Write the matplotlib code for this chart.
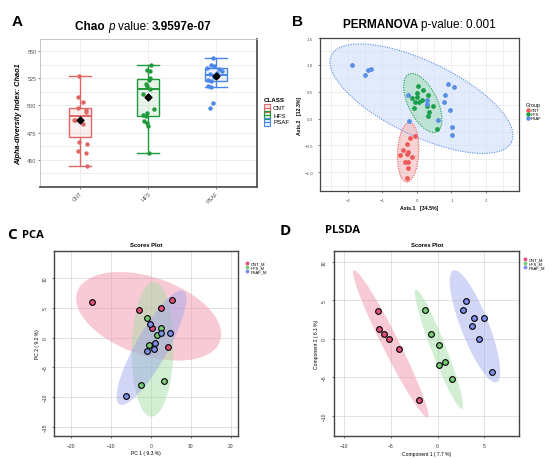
import matplotlib.pyplot as plt
import matplotlib.patches as mpatches
from matplotlib.lines import Line2D
import numpy as np

plt.rcParams['font.family'] = ['Liberation Sans', 'DejaVu Sans']

# ---------------- data ----------------
groups = ["CNT", "HFS", "PSAF"]

# A: Chao1 box statistics
chao_q1 = [470.7, 490.7, 522.6]
chao_med = [490.1, 515.0, 527.8]
chao_q3 = [497.7, 523.9, 534.2]
chao_lo = [444.0, 456.7, 517.2]
chao_hi = [527.2, 537.2, 543.9]
chao_mean = [486.5, 507.4, 526.6]

chao_cnt = [527.2, 508.0, 502.7, 497.8, 495.4, 493.8, 486.2, 486.5, 483.0, 466.0, 464.3, 458.2, 456.7, 444.0]
chao_cnt_jit = [-0.015, -0.034, 0.049, -0.034, 0.088, 0.088, -0.088, -0.074, 0.039, -0.015, 0.098, -0.029, 0.083, 0.108]
chao_hfs = [537.0, 532.7, 532.0, 525.0, 523.0, 520.0, 517.5, 515.0, 510.7, 496.5, 493.0, 491.0, 490.0, 486.0, 484.0, 481.0, 456.7]
chao_hfs_jit = [0.049, -0.015, 0.034, 0.025, 0.015, -0.029, -0.015, 0.034, -0.074, 0.088, -0.015, -0.074, -0.034, -0.059, -0.020, -0.005, 0.015]
chao_psaf = [544.0, 537.0, 536.3, 534.8, 533.0, 532.0, 530.0, 528.7, 526.3, 523.3, 522.0, 517.8, 516.9, 502.0, 498.0]
chao_psaf_jit = [-0.049, -0.078, -0.039, -0.137, 0.044, 0.093, 0.010, -0.088, -0.039, -0.127, -0.078, -0.123, -0.074, -0.049, -0.088]

# B: PCoA ordination
pcoa_cnt_x = [-0.05, -0.20, -0.28, -0.41, -0.26, -0.49, -0.28, -0.13, -0.35, -0.27, -0.26, -0.29]
pcoa_cnt_y = [-0.33, -0.36, -0.48, -0.58, -0.62, -0.68, -0.67, -0.72, -0.81, -0.81, -0.92, -1.10]
pcoa_hfs_x = [0.03, 0.18, 0.01, -0.13, 0.01, 0.14, 0.31, -0.05, 0.05, -0.09, 0.28, 0.47, 0.36, 0.33, 0.57]
pcoa_hfs_y = [0.60, 0.53, 0.47, 0.38, 0.41, 0.35, 0.44, 0.30, 0.30, 0.20, 0.24, 0.24, 0.13, 0.05, -0.20]
pcoa_psaf_x = [-1.88, -1.51, -1.41, -1.32, -0.26, -0.22, 0.89, 1.07, 0.80, 0.79, 0.97, 0.60, 1.01, 1.01, 0.29, 0.28]
pcoa_psaf_y = [0.99, 0.82, 0.90, 0.92, 0.44, -0.04, 0.65, 0.58, 0.44, 0.30, 0.15, -0.03, -0.15, -0.30, 0.35, 0.28]
# ellipses: centre, conjugate semi-diameters (u, v)
pcoa_ell_centre = [(-0.255, -0.63), (0.17, 0.29), (0.13, 0.37)]
pcoa_ell_u = [(-0.044, -0.555), (0.405, -0.537), (2.61, -0.81)]
pcoa_ell_v = [(0.307, -0.010), (0.381, 0.117), (0.48, 0.62)]

# C: PCA scores
pca_cnt_x = [-14.8, -3.0, 2.7, 5.25, 0.33, 4.3]
pca_cnt_y = [5.9, 4.7, 4.9, 6.35, 1.57, -1.57]
pca_hfs_x = [-1.0, 2.5, 1.67, -0.42, 3.33, -2.33]
pca_hfs_y = [3.26, 1.57, 0.34, -1.24, -7.25, -7.98]
pca_psaf_x = [-0.25, 2.5, 4.9, 1.0, 0.83, -1.0, -6.1]
pca_psaf_y = [2.25, 0.84, 0.79, -0.84, -2.0, -2.3, -9.8]
pca_ell_centre = [(-0.5, 3.56), (0.5, -1.97), (0.2, -1.71)]
pca_ell_u = [(17.85, -4.15), (0.3, 11.34), (8.0, 9.53)]
pca_ell_v = [(3.18, 6.18), (5.2, 0.0), (3.48, -1.33)]

# D: PLS-DA scores
pls_cnt_x = [-6.43, -6.29, -5.71, -5.21, -4.18, -2.04]
pls_cnt_y = [3.6, 1.3, 0.57, 0.0, -1.3, -7.96]
pls_hfs_x = [-1.36, -0.68, 0.11, 0.82, 0.11, 1.57]
pls_hfs_y = [3.7, 0.65, -0.78, -2.96, -3.35, -5.2]
pls_psaf_x = [3.04, 2.75, 3.86, 4.93, 3.71, 4.43, 5.86]
pls_psaf_y = [4.87, 3.74, 2.65, 2.7, 1.65, 0.0, -4.3]
pls_ell_centre = [(-5.03, -0.65), (0.14, -1.37), (4.0, 1.63)]
pls_ell_u = [(-3.95, 9.56), (-2.47, 7.76), (-2.32, 7.28)]
pls_ell_v = [(0.80, 0.49), (0.73, 0.34), (1.39, 0.65)]


def ellipse_xy(c, u, v):
    t = np.linspace(0, 2 * np.pi, 200)
    x = c[0] + u[0] * np.cos(t) + v[0] * np.sin(t)
    y = c[1] + u[1] * np.cos(t) + v[1] * np.sin(t)
    return x, y


fig = plt.figure(figsize=(5.53, 4.60), dpi=100)
renderer = fig.canvas.get_renderer()


def run_text(x_px, y_px, pieces, size):
    # place text pieces one after another on a line (pixel coords from top-left)
    x = x_px
    for txt, kw in pieces:
        t = fig.text(x / 553, 1 - y_px / 460, txt, fontsize=size, ha='left', va='center', **kw)
        x += t.get_window_extent(renderer).width


# ---------------- A ----------------
colA = ["#e06666", "#1f9a3a", "#4a86e8"]
axA = fig.add_axes([0.0723, 0.5913, 0.3924, 0.3217])
stats = []
for i in range(3):
    stats.append(dict(med=chao_med[i], q1=chao_q1[i], q3=chao_q3[i],
                      whislo=chao_lo[i], whishi=chao_hi[i], fliers=[]))
bp = axA.bxp(stats, positions=[1, 2, 3], widths=0.32, patch_artist=True,
             showfliers=False)
for i in range(3):
    bp['boxes'][i].set(facecolor=colA[i] + "1a", edgecolor=colA[i], linewidth=1.0)
    bp['medians'][i].set(color=colA[i], linewidth=1.4)
    for w in bp['whiskers'][2 * i:2 * i + 2]:
        w.set(color=colA[i], linewidth=1.0)
    for c in bp['caps'][2 * i:2 * i + 2]:
        c.set(color=colA[i], linewidth=1.0, xdata=[i + 1 - 0.16, i + 1 + 0.16])
pts = [(chao_cnt, chao_cnt_jit), (chao_hfs, chao_hfs_jit), (chao_psaf, chao_psaf_jit)]
for i, (vals, jit) in enumerate(pts):
    axA.scatter(np.array(jit) + i + 1, vals, s=10, color=colA[i], zorder=3, linewidths=0)
axA.scatter([1, 2, 3], chao_mean, marker='D', s=12, color='black', zorder=4)
axA.set_xlim(0.41, 3.6)
axA.set_ylim(425, 561)
axA.set_yticks([450, 475, 500, 525, 550])
axA.set_yticks([437.5, 462.5, 487.5, 512.5, 537.5], minor=True)
axA.set_xticks([1, 2, 3])
axA.set_xticklabels(groups, rotation=45, ha='right', rotation_mode='anchor')
axA.tick_params(labelsize=4, colors='#555555', length=1.5, width=0.5, pad=1)
axA.tick_params(which='minor', length=0)
axA.grid(True, which='both', color='#ebebeb', linewidth=0.6)
axA.set_axisbelow(True)
for s in ['left', 'top']:
    axA.spines[s].set(color='#bbbbbb', linewidth=0.6)
for s in ['right', 'bottom']:
    axA.spines[s].set(color='#555555', linewidth=1.3)
axA.set_ylabel("Alpha-diversity Index: Chao1", fontsize=5.3, fontstyle='italic',
               fontweight='bold')
axA.yaxis.set_label_coords(-18 / 217, 0.5)
run_text(75, 27, [("Chao ", dict(fontweight='bold')), ("p ", dict(fontstyle='italic')),
                  ("value: ", {}), ("3.9597e-07", dict(fontweight='bold'))], 8.5)
fig.text(12 / 553, 1 - 22 / 460, "A", fontsize=11, fontweight='bold', ha='left', va='center')

# legend A
fig.text(264 / 553, 1 - 100 / 460, "CLASS", fontsize=4.5, fontweight='bold', va='center')
for i, g in enumerate(groups):
    y = 1 - (109 + 7 * i) / 460
    fig.patches.append(mpatches.Rectangle((264 / 553, y - 0.008), 0.011, 0.016,
                                          transform=fig.transFigure,
                                          facecolor=colA[i] + "22", edgecolor=colA[i], linewidth=0.8))
    fig.add_artist(Line2D([264 / 553, 270 / 553], [y, y], color=colA[i], linewidth=0.8,
                          transform=fig.transFigure))
    fig.text(273 / 553, y, g, fontsize=4.5, va='center')

# ---------------- B ----------------
colB = ["#ee5a5a", "#1aa04a", "#5a8fe6"]
fillB = ["#f4b6b6", "#a8dcbd", "#cddffa"]
axB = fig.add_axes([0.5787, 0.5826, 0.3599, 0.3326])
ptsB = [(pcoa_cnt_x, pcoa_cnt_y), (pcoa_hfs_x, pcoa_hfs_y), (pcoa_psaf_x, pcoa_psaf_y)]
for i in [2, 1, 0]:
    ex, ey = ellipse_xy(pcoa_ell_centre[i], pcoa_ell_u[i], pcoa_ell_v[i])
    axB.fill(ex, ey, facecolor=fillB[i], alpha=0.6, edgecolor='none', zorder=1)
    axB.plot(ex, ey, color=colB[i], linestyle=(0, (1, 1.2)), linewidth=0.8, zorder=2)
for i in range(3):
    axB.scatter(ptsB[i][0], ptsB[i][1], s=12, color=colB[i], zorder=3, linewidths=0)
axB.set_xlim(-2.81, 2.96)
axB.set_ylim(-1.35, 1.5)
axB.set_xticks([-2, -1, 0, 1, 2])
axB.set_yticks([-1.0, -0.5, 0.0, 0.5, 1.0, 1.5])
axB.set_xticks([-2.5, -1.5, -0.5, 0.5, 1.5, 2.5], minor=True)
axB.set_yticks([-1.25, -0.75, -0.25, 0.25, 0.75, 1.25], minor=True)
axB.tick_params(labelsize=3.2, colors='#555555', length=1.5, width=0.5)
axB.tick_params(which='minor', length=0)
axB.grid(True, which='both', color='#ebebeb', linewidth=0.6)
axB.set_axisbelow(True)
for s in axB.spines.values():
    s.set(color='#444444', linewidth=0.9)
axB.set_xlabel("Axis.1   [34.5%]", fontsize=3.8, fontweight='bold', labelpad=2)
axB.set_ylabel("Axis.2   [12.3%]", fontsize=3.8, fontweight='bold', labelpad=2)
run_text(343, 25, [("PERMANOVA ", dict(fontweight='bold')), ("p-value: 0.001", {})], 8.5)
fig.text(292 / 553, 1 - 22 / 460, "B", fontsize=11, fontweight='bold', ha='left', va='center')
fig.text(526 / 553, 1 - 105 / 460, "Group", fontsize=3.8, va='center')
for i, g in enumerate(["CNT", "HFS", "PSAF"]):
    y = 1 - (111 + 4.2 * i) / 460
    fig.add_artist(Line2D([528 / 553], [y], marker='o', markersize=2.2, color=colB[i],
                          transform=fig.transFigure, linestyle='none'))
    fig.text(531 / 553, y, g, fontsize=3.0, va='center')

# ---------------- C & D ----------------
colP = ["#e0507a", "#78cc78", "#7f8ee6"]
fillP = ["#f08aa5", "#9fdc9f", "#9aa3ec"]


def scores_panel(rect, pts, centres, us, vs, xlim, ylim, xticks, yticks, xlabel, ylabel):
    ax = fig.add_axes(rect)
    for i in range(3):
        ex, ey = ellipse_xy(centres[i], us[i], vs[i])
        ax.fill(ex, ey, facecolor=fillP[i], alpha=0.45, edgecolor='none', zorder=1)
    for i in range(3):
        ax.scatter(pts[i][0], pts[i][1], s=17, color=colP[i], edgecolors='black',
                   linewidths=0.8, zorder=3)
    ax.set_xlim(xlim)
    ax.set_ylim(ylim)
    ax.set_xticks(xticks)
    ax.set_yticks(yticks)
    ax.tick_params(labelsize=3.6, length=1.5, width=0.5, colors='#333333')
    for lab in ax.get_yticklabels():
        lab.set_rotation(90)
        lab.set_va('center')
    ax.grid(True, color='#dddddd', linewidth=0.6)
    ax.set_axisbelow(True)
    for s in ax.spines.values():
        s.set(color='#444444', linewidth=1.0)
    ax.set_title("Scores Plot", fontsize=4.2, fontweight='bold', pad=4)
    ax.set_xlabel(xlabel, fontsize=3.6, labelpad=2)
    ax.set_ylabel(ylabel, fontsize=3.6, labelpad=2)
    return ax


scores_panel([0.0982, 0.0507, 0.3327, 0.4009],
             [(pca_cnt_x, pca_cnt_y), (pca_hfs_x, pca_hfs_y), (pca_psaf_x, pca_psaf_y)],
             pca_ell_centre, pca_ell_u, pca_ell_v,
             (-24.1, 21.9), (-16.5, 14.5), [-20, -10, 0, 10, 20], [-15, -10, -5, 0, 5, 10],
             "PC 1 ( 9.3 %)", "PC 2 ( 9.2 %)")
scores_panel([0.6040, 0.0493, 0.3351, 0.4022],
             [(pls_cnt_x, pls_cnt_y), (pls_hfs_x, pls_hfs_y), (pls_psaf_x, pls_psaf_y)],
             pls_ell_centre, pls_ell_u, pls_ell_v,
             (-11.1, 8.75), (-12.7, 11.4), [-10, -5, 0, 5], [-10, -5, 0, 5, 10],
             "Component 1 ( 7.7 %)", "Component 2 ( 6.1 %)")

fig.text(7 / 553, 1 - 235 / 460, "C", fontsize=11, fontweight='bold', family='Open Sans',
         ha='left', va='center')
fig.text(22 / 553, 1 - 236 / 460, "PCA", fontsize=8, fontweight='bold', family='Open Sans',
         ha='left', va='center')
fig.text(280 / 553, 1 - 231 / 460, "D", fontsize=11, fontweight='bold', family='Open Sans',
         ha='left', va='center')
fig.text(325 / 553, 1 - 231 / 460, "PLSDA", fontsize=8, fontweight='bold', family='Open Sans',
         ha='left', va='center')

for (x0, y0) in [(247, 264), (525, 260)]:
    for i, g in enumerate(["CNT_M", "HFS_M", "PSAF_M"]):
        y = 1 - (y0 + 4.2 * i) / 460
        fig.add_artist(Line2D([x0 / 553], [y], marker='o', markersize=1.8, color=colP[i],
                              markeredgecolor=colP[i], transform=fig.transFigure, linestyle='none'))
        fig.text((x0 + 4) / 553, y, g, fontsize=3.0, va='center')

fig.savefig("out.png", dpi=100)
